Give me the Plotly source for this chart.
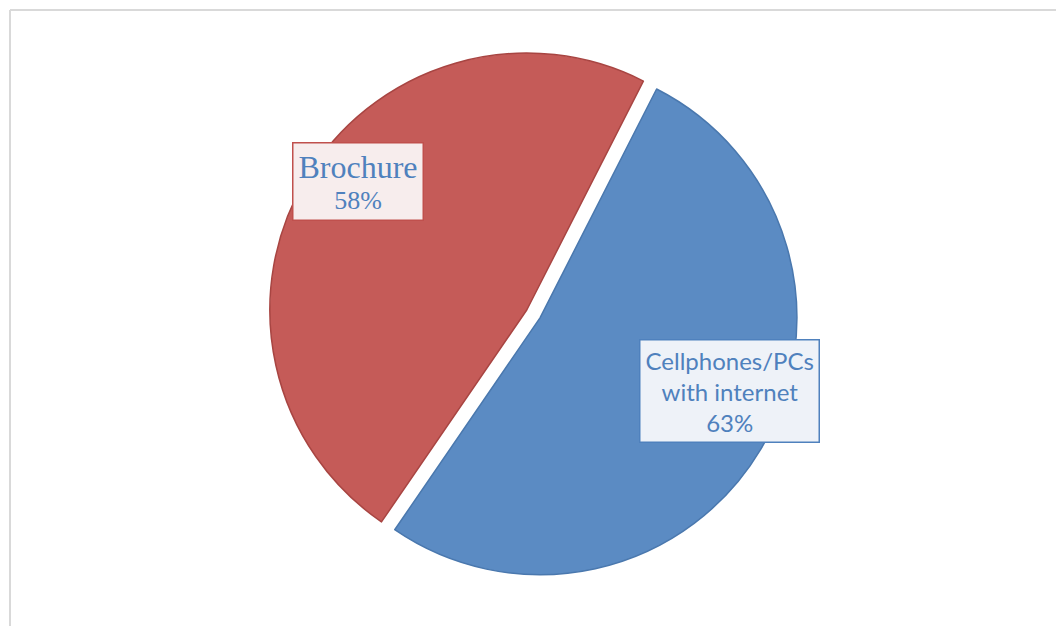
import plotly.graph_objects as go

categories = ["Cellphones/PCs with internet", "Brochure"]
label_lines = ["Cellphones/PCs<br>with internet", "Brochure"]
values = [63, 58]
value_labels = ["63%", "58%"]

colors = ["#5B8BC3", "#C55B58"]
line_colors = ["#4A78AE", "#A84542"]

W, H = 1064, 626

fig = go.Figure()
fig.add_trace(go.Pie(
    labels=categories,
    values=values,
    sort=False,
    direction="clockwise",
    rotation=27,
    pull=[0.0, 0.06],
    marker=dict(colors=colors, line=dict(color=line_colors, width=1.5)),
    textinfo="none",
    hoverinfo="label+value",
    showlegend=False,
    domain=dict(x=[0.0, 1.0], y=[0.07, 0.94]),
))

# Data labels with boxes (text taken from the data arrays)
fig.add_annotation(
    x=350 / W, y=1 - 173 / H, xref="paper", yref="paper",
    xanchor="center", yanchor="middle",
    text=f"<span style='font-family:Liberation Serif;font-size:32px'>{label_lines[1]}</span><br>"
         f"<span style='font-family:Liberation Serif;font-size:26px'>{value_labels[1]}</span>",
    showarrow=False, bgcolor="#F7EDED", bordercolor="#C0504D", borderwidth=1.5,
    borderpad=5, font=dict(color="#4F81BD", size=24), align="center",
)
fig.add_annotation(
    x=721 / W, y=1 - 383 / H, xref="paper", yref="paper",
    xanchor="center", yanchor="middle",
    text=f"{label_lines[0]}<br>{value_labels[0]}",
    showarrow=False, bgcolor="#EEF2F8", bordercolor="#4F81BD", borderwidth=1.5,
    borderpad=5, font=dict(color="#4F81BD", size=24, family="Lato"), align="center",
)

# chart area border (top and left edges visible)
fig.add_shape(type="line", xref="paper", yref="paper",
              x0=2 / W, x1=1.0, y0=1 - 2 / H, y1=1 - 2 / H,
              line=dict(color="#D9D9D9", width=2))
fig.add_shape(type="line", xref="paper", yref="paper",
              x0=2 / W, x1=2 / W, y0=0, y1=1 - 2 / H,
              line=dict(color="#D9D9D9", width=2))

fig.update_layout(
    width=W, height=H,
    margin=dict(l=0, r=0, t=0, b=0),
    paper_bgcolor="white", plot_bgcolor="white",
)

fig.write_html("out.html")
